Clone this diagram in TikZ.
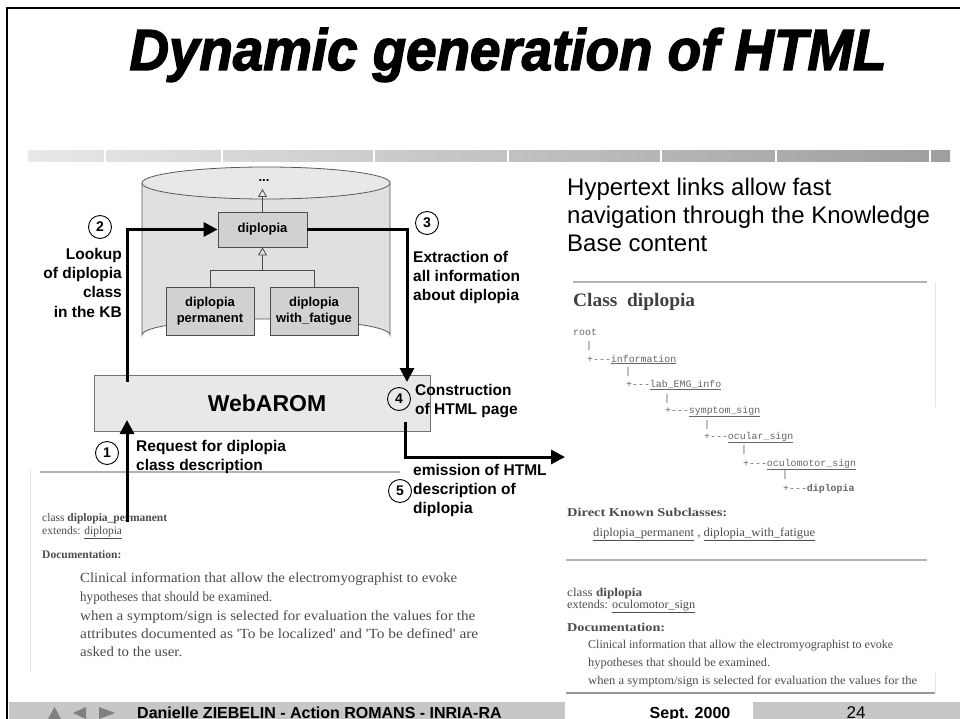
\documentclass[tikz,border=0pt]{standalone}
\usepackage{fontspec}
\usepackage{graphicx}
\setmainfont{Liberation Sans}
\newfontfamily\htmlserif{Liberation Serif}
\newfontfamily\htmlmono{Liberation Mono}
\newfontfamily\titlefont{Liberation Sans}[BoldItalicFeatures={FakeBold=2.5}]
\usetikzlibrary{arrows.meta,calc}
% squeeze or stretch a line of text to a given width, keeping its height
\newcommand\fitw[2]{\resizebox{#1pt}{\height}{#2}}
\tikzset{
  flow/.style={line width=3pt, -{Triangle[length=14pt,width=14pt]}},
  gen/.style={line width=0.8pt, draw=black!70, -{Triangle[open,length=8pt,width=9pt]}},
  genline/.style={line width=0.8pt, draw=black!70},
  cls/.style={draw=black!70, fill=black!18, line width=0.8pt, align=center, inner sep=0pt,
              font=\bfseries\fontsize{13}{16}\selectfont},
  num/.style={circle, draw, line width=0.9pt, minimum size=23pt, inner sep=0pt,
              font=\bfseries\fontsize{14}{14}\selectfont},
  note/.style={inner sep=0pt, align=left, font=\bfseries\fontsize{15.5}{19.2}\selectfont},
  shot/.style={inner sep=0pt, anchor=base west, text=black!70, font=\htmlserif\fontsize{14}{14}\selectfont},
  shothead/.style={shot, font=\htmlserif\fontsize{11.5}{11.5}\selectfont},
  shotsmall/.style={shot, font=\htmlserif\fontsize{12}{12}\selectfont},
  treeline/.style={inner sep=0pt, anchor=base west, text=black!60, font=\htmlmono\fontsize{9.9}{10}\selectfont},
  hrule/.style={draw=black!30, line width=1.2pt},
  faint/.style={draw=black!10, line width=1pt},
  footer/.style={inner sep=0pt, anchor=base, font=\bfseries\fontsize{16}{16}\selectfont},
}
\begin{document}
\begin{tikzpicture}[x=1pt,y=-1pt]
\useasboundingbox (0,0) rectangle (960,719);
\fill[white] (0,0) rectangle (960,719);

% slide frame
\draw[line width=2.5pt] (7,725) -- (7,8) -- (965,8);

% title
\node[anchor=base, inner sep=0pt, font=\titlefont\bfseries\itshape\fontsize{58}{60}\selectfont]
  (title) at (508,70) {\fitw{757}{Dynamic generation of HTML}};

% shaded separator bar under the title
\shade[left color=black!9, right color=black!38] (28,151) rectangle (950,162);
\foreach \x in {105,222,374,508,661,776,930}
  \draw[white, line width=1.5pt] (\x,150) -- (\x,163);

% knowledge base cylinder
\filldraw[fill=black!12, draw=black!65, line width=0.8pt]
  (142,183) -- (142,335) arc[start angle=180, end angle=360, x radius=124, y radius=16]
  -- (390,183) -- cycle;
\filldraw[fill=black!9, draw=black!65, line width=0.8pt]
  (266,183) ellipse[x radius=124, y radius=16];

% class hierarchy inside the base
\node[cls, minimum width=89pt, minimum height=35pt] (dip) at (262.5,229.5) {diplopia};
\node[cls, minimum width=88pt, minimum height=48pt] (perm) at (210,311) {diplopia\\permanent};
\node[cls, minimum width=88pt, minimum height=48pt] (fat) at (314,311) {diplopia\\with\_fatigue};
\node[inner sep=0pt, font=\bfseries\fontsize{13}{13}\selectfont] (dots) at (264,181) {...};
\coordinate (apex) at (262.5,189);
\coordinate (fork) at (262.5,271);
\draw[gen] (dip.north) -- (apex);
\draw[genline] (perm.north) -- ++(0,-16) -| (fat.north);
\draw[gen] (fork) -- (dip.south);

% WebAROM server
\node[draw=black!55, fill=black!9, line width=0.8pt, minimum width=336pt, minimum height=56pt]
  (web) at (262,403) {};
\node[inner sep=0pt, font=\bfseries\fontsize{23}{23}\selectfont] (webtxt) at (267,403) {WebAROM};

% HTML page requested by the user (lower left)
\draw[hrule] (40,472) -- (400,472);
\draw[faint] (30,470) -- (30,672);
\node[shothead] (l1) at (42,521) {class \textbf{diplopia\_permanent}};
\node[shothead] (l2) at (42,534) {extends: \underline{diplopia}};
\node[shothead] (l3) at (42,558) {\textbf{Documentation:}};
\node[shot] (l4) at (80,582) {\fitw{377}{Clinical information that allow the electromyographist to evoke}};
\node[shot] (l5) at (80,601) {\fitw{192}{hypotheses that should be examined.}};
\node[shot] (l6) at (80,620) {\fitw{395}{when a symptom/sign is selected for evaluation the values for the}};
\node[shot] (l7) at (80,638) {\fitw{398}{attributes documented as 'To be localized' and 'To be defined' are}};
\node[shot] (l8) at (80,656) {\fitw{102}{asked to the user.}};

% generated HTML page (right)
\draw[hrule] (573,282) -- (927,282);
\draw[faint] (935,282) -- (935,407);
\node[shot, text=black!75, font=\htmlserif\bfseries\fontsize{19}{19}\selectfont] (rtitle) at (573,306)
  {\fitw{122}{Class\ \ diplopia}};
\node[treeline] (t0) at (573,335) {root};
\node[treeline] (t1) at (586,348) {|};
\node[treeline] (t2) at (587,362) {+---\underline{information}};
\node[treeline] (t3) at (625,374) {|};
\node[treeline] (t4) at (626,387) {+---\underline{lab\_EMG\_info}};
\node[treeline] (t5) at (664,401) {|};
\node[treeline] (t6) at (665,413) {+---\underline{symptom\_sign}};
\node[treeline] (t7) at (704,427) {|};
\node[treeline] (t8) at (704,439) {+---\underline{ocular\_sign}};
\node[treeline] (t9) at (741,452) {|};
\node[treeline] (t10) at (743,466) {+---\underline{oculomotor\_sign}};
\node[treeline] (t11) at (782,477) {|};
\node[treeline] (t12) at (783,491) {+---\textbf{diplopia}};
\node[shotsmall] (r1) at (567,516) {\fitw{160}{\textbf{Direct Known Subclasses:}}};
\node[shotsmall] (r2) at (593,536) {\fitw{222}{\underline{diplopia\_permanent} , \underline{diplopia\_with\_fatigue}}};
\draw[hrule] (566,560) -- (927,560);
\node[shotsmall] (r3) at (567,596) {\fitw{75}{class \textbf{diplopia}}};
\node[shotsmall] (r4) at (567,608) {\fitw{128}{extends: \underline{oculomotor\_sign}}};
\node[shotsmall] (r5) at (567,631) {\fitw{98}{\textbf{Documentation:}}};
\node[shotsmall] (r6) at (588,648) {\fitw{305}{Clinical information that allow the electromyographist to evoke}};
\node[shotsmall] (r7) at (588,666) {\fitw{182}{hypotheses that should be examined.}};
\node[shotsmall] (r8) at (588,684) {\fitw{329}{when a symptom/sign is selected for evaluation the values for the}};
\draw[draw=black!40, line width=2pt] (566,693) -- (935,693);
\draw[faint] (935,673) -- (935,693);

% caption text
\node[inner sep=0pt, anchor=north west, align=left, font=\fontsize{24}{28}\selectfont]
  (hyper) at (567,178) {Hypertext links allow fast\\navigation through the Knowledge\\Base content};

% processing steps
\coordinate (a2) at (127,382);
\coordinate (a3) at (407,382);
\coordinate (r0) at (127,522);
\coordinate (a1) at (127,420);
\coordinate (e5) at (405,422);
\coordinate (out5) at (565,457);
\draw[flow] (r0) -- (a1);
\draw[flow] (a2) |- (dip.west);
\draw[flow] (dip.east) -| (a3);
\draw[flow] (e5) |- (out5);

\node[num] (n1) at (107,453) {1};
\node[num] (n2) at (100,227) {2};
\node[num] (n3) at (427,223) {3};
\node[num] (n4) at (399,399) {4};
\node[num] (n5) at (400,491) {5};

\node[note, anchor=north west] (req) at (136,440) {Request for diplopia\\class description};
\node[note, anchor=north east, align=right] (look) at (122,248) {Lookup\\of diplopia\\class\\in the KB};
\node[note, anchor=north west] (extr) at (413,251) {Extraction of\\all information\\about diplopia};
\node[note, anchor=north west] (constr) at (415,384) {Construction\\of HTML page};
\node[note, anchor=north west] (emis) at (413,464) {emission of HTML\\description of\\diplopia};

% footer
\fill[black!22] (9,702) rectangle (565,725);
\fill[black!22] (753,702) rectangle (965,725);
\fill[black!50] (48,719) -- (61,719) -- (54.5,707) -- cycle;
\fill[black!50] (86,707) -- (86,719) -- (73,713) -- cycle;
\fill[black!50] (99,707) -- (99,719) -- (115,713) -- cycle;
\node[footer, anchor=base west] (author) at (137,718) {Danielle ZIEBELIN - Action ROMANS - INRIA-RA};
\node[footer] (date) at (690,718) {Sept. 2000};
\node[footer, font=\fontsize{17}{17}\selectfont] (page) at (856,718) {24};
\end{tikzpicture}
\end{document}
